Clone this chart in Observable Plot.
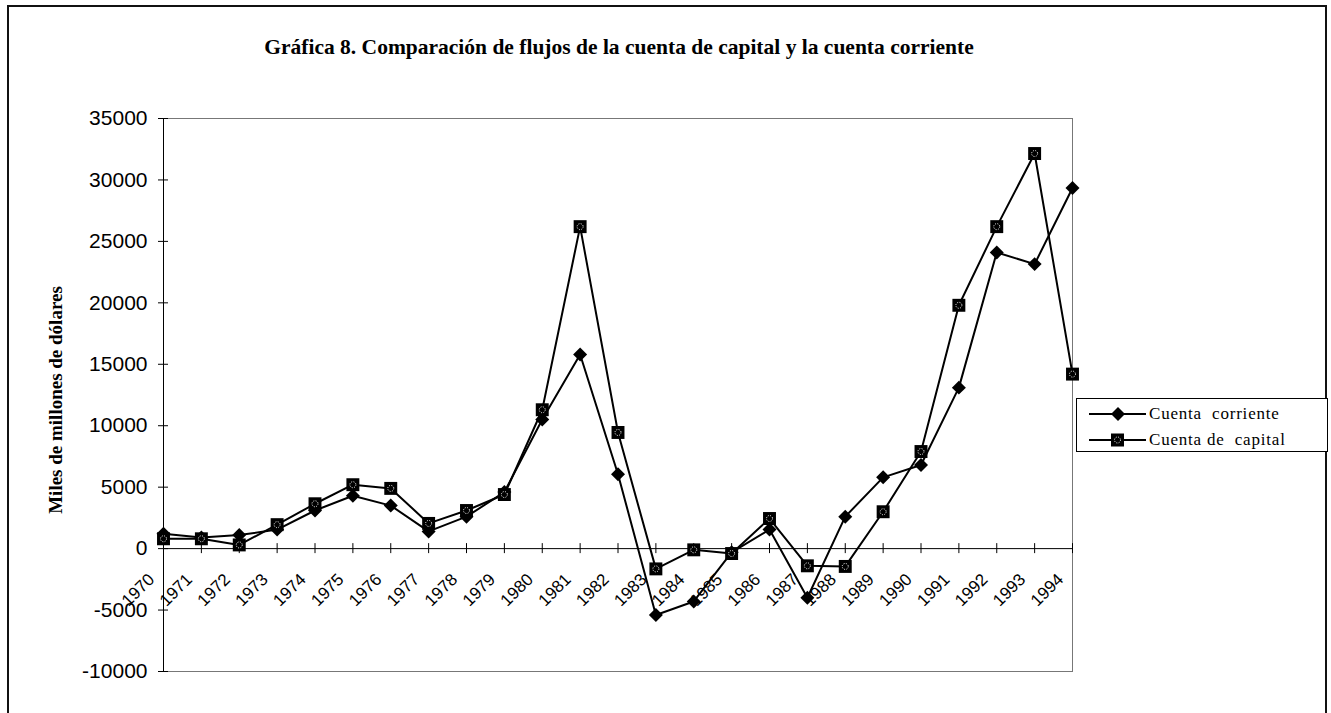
<!DOCTYPE html>
<html><head><meta charset="utf-8">
<script src="https://cdn.jsdelivr.net/npm/d3@7"></script>
<script src="https://cdn.jsdelivr.net/npm/@observablehq/plot@0.6"></script>
<style>
body{margin:0;background:#fff;}
#wrap{position:relative;width:1331px;height:713px;overflow:hidden;background:#fff;}
#border{position:absolute;left:7px;top:5px;width:1320px;height:716px;border:2px solid #111;box-sizing:border-box;}
#chart{position:absolute;left:0;top:0;}
#title{position:absolute;left:0;top:34px;width:1238px;text-align:center;font:bold 21.5px "Liberation Serif","Times New Roman",serif;color:#000;line-height:26px;}
#ylabel{position:absolute;left:56px;top:400px;transform:translate(-50%,-50%) rotate(-90deg);white-space:nowrap;font:bold 19px "Liberation Serif","Times New Roman",serif;color:#000;}
#legend{position:absolute;left:1076px;top:398px;width:252px;height:54px;border:1px solid #000;background:#fff;box-sizing:border-box;}
.lrow{position:absolute;left:0;height:24px;display:flex;align-items:center;}
.lrow span{font:17px "Liberation Serif","Times New Roman",serif;letter-spacing:0.8px;margin-left:2px;color:#000;}
</style></head>
<body>
<div id="wrap">
  <div id="border"></div>
  <div id="chart"></div>
  <div id="title">Gráfica 8. Comparación de flujos de la cuenta de capital y la cuenta corriente</div>
  <div id="ylabel">Miles de millones de dólares</div>
  <div id="legend">
    <div class="lrow" style="top:3px;left:12px"><svg width="58" height="20"><line x1="0" x2="57" y1="10" y2="10" stroke="#000" stroke-width="2"/><path d="M29,3 L36,10 L29,17 L22,10 Z" fill="#000"/></svg><span>Cuenta&nbsp; corriente</span></div>
    <div class="lrow" style="top:29px;left:12px"><svg width="58" height="20"><line x1="0" x2="57" y1="10" y2="10" stroke="#000" stroke-width="2"/><rect x="22" y="3.5" width="13" height="13" fill="#000"/><circle cx="28.5" cy="10" r="3" fill="none" stroke="#fff" stroke-width="1" stroke-dasharray="1,1.4"/></svg><span>Cuenta de&nbsp; capital</span></div>
  </div>
</div>
<script>
const years = [1970,1971,1972,1973,1974,1975,1976,1977,1978,1979,1980,1981,1982,1983,1984,1985,1986,1987,1988,1989,1990,1991,1992,1993,1994];
const cuentaCorriente = [1200,900,1100,1550,3100,4300,3500,1400,2600,4600,10500,15800,6050,-5400,-4300,-300,1550,-4000,2600,5800,6800,13100,24100,23150,29350];
const cuentaCapital = [800,800,300,1950,3650,5200,4900,2050,3100,4400,11300,26200,9450,-1650,-100,-400,2450,-1400,-1450,3000,7900,19800,26200,32150,14200];
const yTicks = [-10000,-5000,0,5000,10000,15000,20000,25000,30000,35000];
const seriesNames = ["Cuenta corriente","Cuenta de capital"];

const rowsCorr = years.map((yr,i)=>({year:yr, serie:seriesNames[0], value:cuentaCorriente[i]}));
const rowsCap = years.map((yr,i)=>({year:yr, serie:seriesNames[1], value:cuentaCapital[i]}));

const chart = Plot.plot({
  width: 1331,
  height: 713,
  marginLeft: 163,
  marginRight: 259,
  marginTop: 118,
  marginBottom: 42,
  style: {background: "transparent", fontFamily: "Arial, 'Liberation Sans', sans-serif", color: "#000"},
  x: {domain: [years[0], years[years.length-1]], axis: null},
  y: {domain: [yTicks[0], yTicks[yTicks.length-1]], axis: null},
  marks: [
    Plot.frame({stroke: "#777", strokeWidth: 1}),
    Plot.ruleX([years[0]], {stroke: "#000", strokeWidth: 1}),
    Plot.ruleY([0], {stroke: "#000", strokeWidth: 1}),
    Plot.ruleY(yTicks, {y: d=>d, x1: years[0], x2: years[0], insetLeft: -5, insetRight: -5, stroke: "#000"}),
    Plot.ruleX(years, {x: d=>d, y1: 0, y2: 0, insetTop: -5, insetBottom: -5, stroke: "#000"}),
    Plot.axisY({ticks: yTicks, tickSize: 0, tickPadding: 16, tickFormat: d=>String(d), fontSize: 21, label: null, anchor: "left"}),
    Plot.text(years, {x: d=>d, y: 0, text: d=>String(d), rotate: -45, textAnchor: "end", dx: -12, dy: 28, fontSize: 17, fill: "#000"}),
    Plot.lineY(rowsCorr, {x: "year", y: "value", stroke: "#000", strokeWidth: 2}),
    Plot.lineY(rowsCap, {x: "year", y: "value", stroke: "#000", strokeWidth: 2}),
    Plot.dot(rowsCorr, {x: "year", y: "value", symbol: "diamond2", r: 6.3, fill: "#000", stroke: "none"}),
    Plot.dot(rowsCap, {x: "year", y: "value", symbol: "square", r: 7.3, fill: "#000", stroke: "none"}),
    Plot.dot(rowsCap, {x: "year", y: "value", symbol: "circle", r: 3, fill: "none", stroke: "#fff", strokeWidth: 1, strokeDasharray: "1,1.4"})
  ]
});
document.getElementById("chart").appendChild(chart);
</script>
</body></html>
